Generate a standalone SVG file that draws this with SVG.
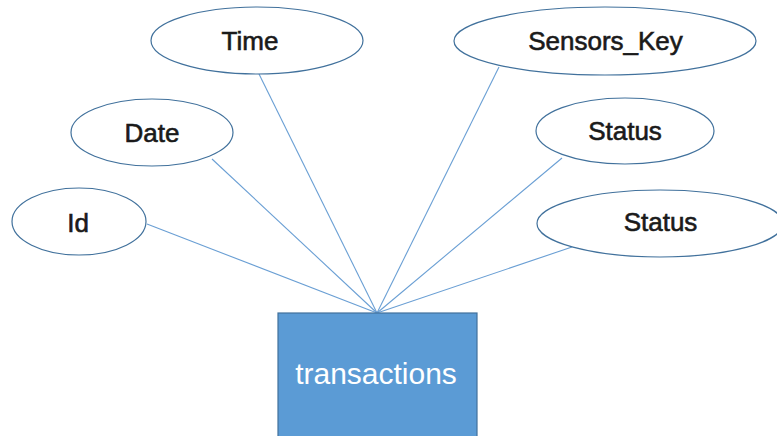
<svg xmlns="http://www.w3.org/2000/svg" width="777" height="436" viewBox="0 0 777 436">
<style>
.attr{fill:#ffffff;stroke:#41719c;stroke-width:1.2}
.lbl{font-family:"Liberation Sans",Arial,sans-serif;font-size:26px;fill:#1a1a1a;stroke:#1a1a1a;stroke-width:0.6;text-anchor:middle}
.conn{stroke:#6a9fd4;stroke-width:1.1;fill:none}
.ent{fill:#5b9bd5;stroke:#41719c;stroke-width:1.2}
.elbl{font-family:"Liberation Sans",Arial,sans-serif;font-size:30px;fill:#ffffff;text-anchor:middle}
</style>
<rect width="777" height="436" fill="#ffffff"/>
<g id="connectors">
<line class="conn" x1="259" y1="74" x2="377" y2="313"/>
<line class="conn" x1="212" y1="159" x2="377" y2="313"/>
<line class="conn" x1="147" y1="224" x2="377" y2="313"/>
<line class="conn" x1="499" y1="67" x2="377" y2="313"/>
<line class="conn" x1="562" y1="158" x2="377" y2="313"/>
<line class="conn" x1="572" y1="247" x2="377" y2="313"/>
</g>
<g id="time"><ellipse class="attr" cx="257" cy="40.5" rx="106" ry="33.5"/><text class="lbl" x="250" y="50">Time</text></g>
<g id="date"><ellipse class="attr" cx="152" cy="132.5" rx="81" ry="33.5"/><text class="lbl" x="152" y="142">Date</text></g>
<g id="id"><ellipse class="attr" cx="79" cy="221.5" rx="67" ry="33.5"/><text class="lbl" x="78" y="232">Id</text></g>
<g id="sensors_key"><ellipse class="attr" cx="605" cy="41" rx="151" ry="34"/><text class="lbl" x="605.5" y="50">Sensors_Key</text></g>
<g id="status1"><ellipse class="attr" cx="625" cy="131" rx="89" ry="33"/><text class="lbl" x="625" y="140">Status</text></g>
<g id="status2"><ellipse class="attr" cx="660" cy="223.5" rx="123" ry="33.5"/><text class="lbl" x="660.5" y="231">Status</text></g>
<g id="transactions"><rect class="ent" x="278" y="313" width="199" height="130"/><text class="elbl" x="376" y="384">transactions</text></g>
</svg>
